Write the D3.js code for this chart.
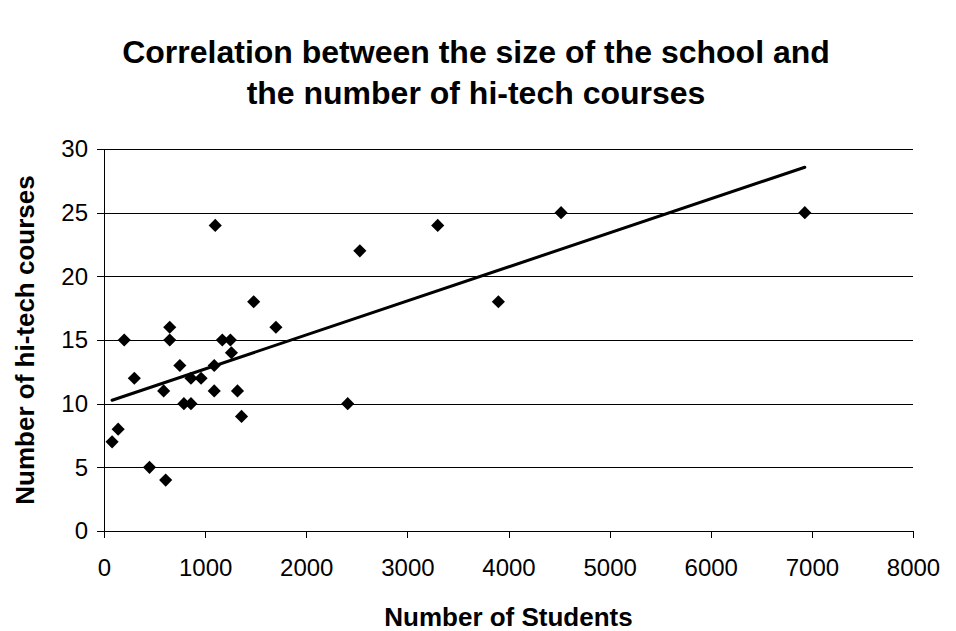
<!DOCTYPE html>
<html>
<head>
<meta charset="utf-8">
<script src="https://cdn.jsdelivr.net/npm/d3@7.9.0/dist/d3.min.js"></script>
<style>
  body { margin: 0; background: #fff; }
  text { font-family: Arial, "Liberation Sans", sans-serif; fill: #000; }
</style>
</head>
<body>
<div id="chart"></div>
<script>
// school size vs hi-tech courses
const students = [80, 140, 200, 300, 450, 590, 610, 650, 650, 750,
  790, 860, 860, 960, 1090, 1090, 1100, 1170, 1250, 1260,
  1320, 1360, 1480, 1700, 2410, 2530, 3300, 3900, 4520, 6930];
const courses = [7, 8, 15, 12, 5, 11, 4, 16, 15, 13,
  10, 10, 12, 12, 11, 13, 24, 15, 15, 14,
  11, 9, 18, 16, 10, 22, 24, 18, 25, 25];
const xTicks = [0, 1000, 2000, 3000, 4000, 5000, 6000, 7000, 8000];
const yTicks = [0, 5, 10, 15, 20, 25, 30];
const titleLines = ['Correlation between the size of the school and', 'the number of hi-tech courses'];

const points = students.map((s, i) => ({ students: s, courses: courses[i] }));

const width = 956;
const height = 631;
const margin = { top: 149, right: 43, bottom: 100, left: 104 };
const usableArea = {
  top: margin.top,
  right: width - margin.right,
  bottom: height - margin.bottom,
  left: margin.left,
};

const svg = d3.select('#chart')
  .append('svg')
  .attr('width', width)
  .attr('height', height);

const xScale = d3.scaleLinear()
  .domain([0, 8000])
  .range([usableArea.left, usableArea.right]);

const yScale = d3.scaleLinear()
  .domain([0, 30])
  .range([usableArea.bottom, usableArea.top]);

// gridlines
svg.append('g')
  .attr('class', 'gridlines')
  .attr('transform', `translate(${usableArea.left}, 0)`)
  .call(d3.axisLeft(yScale).tickValues(yTicks).tickFormat('')
    .tickSize(-(usableArea.right - usableArea.left)))
  .call((g) => g.select('.domain').remove())
  .call((g) => g.selectAll('line').attr('stroke', '#000').attr('shape-rendering', 'crispEdges'));

svg.append('g')
  .attr('class', 'y-axis')
  .attr('transform', `translate(${usableArea.left}, 0)`)
  .call(d3.axisLeft(yScale).tickValues(yTicks).tickSize(7).tickSizeOuter(0).tickPadding(9));

svg.append('g')
  .attr('class', 'x-axis')
  .attr('transform', `translate(0, ${usableArea.bottom})`)
  .call(d3.axisBottom(xScale).tickValues(xTicks).tickFormat(d3.format('d'))
    .tickSize(7).tickSizeOuter(0).tickPadding(21));

svg.selectAll('.x-axis, .y-axis')
  .call((g) => g.selectAll('.domain, line').attr('stroke', '#000').attr('shape-rendering', 'crispEdges'))
  .call((g) => g.selectAll('text').style('font-size', '24px').attr('fill', '#000'));

// least-squares trendline over the data range
const meanX = d3.mean(students);
const meanY = d3.mean(courses);
const slope = d3.sum(points, (d) => (d.students - meanX) * (d.courses - meanY)) /
  d3.sum(points, (d) => (d.students - meanX) ** 2);
const intercept = meanY - slope * meanX;
const trendX = d3.extent(students);

svg.append('line')
  .attr('class', 'trend')
  .attr('x1', xScale(trendX[0]))
  .attr('y1', yScale(intercept + slope * trendX[0]))
  .attr('x2', xScale(trendX[1]))
  .attr('y2', yScale(intercept + slope * trendX[1]))
  .attr('stroke', '#000')
  .attr('stroke-width', 3)
  .attr('stroke-linecap', 'round');

const diamond = d3.symbol().type(d3.symbolDiamond2).size(110);

svg.append('g')
  .attr('class', 'dots')
  .selectAll('path')
  .data(points)
  .join('path')
  .attr('d', diamond)
  .attr('transform', (d) => `translate(${xScale(d.students)}, ${yScale(d.courses)})`)
  .attr('fill', '#000');

// titles
svg.append('g')
  .selectAll('text')
  .data(titleLines)
  .join('text')
  .attr('x', 476)
  .attr('y', (d, i) => 63 + i * 41)
  .attr('text-anchor', 'middle')
  .style('font-size', '32px')
  .style('font-weight', 'bold')
  .text((d) => d);

svg.append('text')
  .attr('x', (usableArea.left + usableArea.right) / 2)
  .attr('y', 626)
  .attr('text-anchor', 'middle')
  .style('font-size', '26px')
  .style('font-weight', 'bold')
  .text('Number of Students');

svg.append('text')
  .attr('transform', `translate(34, ${(usableArea.top + usableArea.bottom) / 2}) rotate(-90)`)
  .attr('text-anchor', 'middle')
  .style('font-size', '26px')
  .style('font-weight', 'bold')
  .text('Number of hi-tech courses');
</script>
</body>
</html>
